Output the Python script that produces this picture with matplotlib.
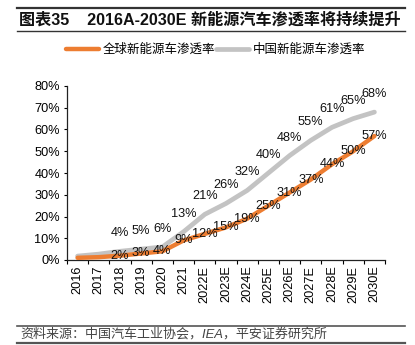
import numpy as np
import matplotlib
matplotlib.use("Agg")
import matplotlib.pyplot as plt
from matplotlib.lines import Line2D

plt.rcParams['font.family'] = ['Liberation Sans', 'Noto Sans CJK SC', 'DejaVu Sans']

YEARS = ["2016", "2017", "2018", "2019", "2020", "2021", "2022E", "2023E",
         "2024E", "2025E", "2026E", "2027E", "2028E", "2029E", "2030E"]
GLOBAL_PEN = [1.0, 1.3, 2, 3, 4, 9, 12, 15, 19, 25, 31, 37, 44, 50, 57]
CHINA_PEN = [1.8, 2.7, 4, 5, 6, 13, 21, 26, 32, 40, 48, 55, 61, 65, 68]
# labels not printed for the first two years
GLOBAL_LABELS = [None, None, "2%", "3%", "4%", "9%", "12%", "15%", "19%", "25%",
                 "31%", "37%", "44%", "50%", "57%"]
CHINA_LABELS = [None, None, "4%", "5%", "6%", "13%", "21%", "26%", "32%", "40%",
                "48%", "55%", "61%", "65%", "68%"]

ORANGE = "#ED7D31"
GRAY = "#C3C3C3"

W, H = 415, 345
fig = plt.figure(figsize=(W / 100, H / 100), dpi=100)

# title block
fig.add_artist(Line2D([17 / W, 405 / W], [1 - 8 / H, 1 - 8 / H], color="#333333", lw=1.6))
fig.add_artist(Line2D([17 / W, 405 / W], [1 - 31 / H, 1 - 31 / H], color="#333333", lw=1.0))
fig.text(19 / W, 1 - 19.5 / H, "图表35    2016A-2030E 新能源汽车渗透率将持续提升",
         fontsize=11.6, fontweight="bold", va="center", ha="left", color="#111111")

# footer
fig.add_artist(Line2D([17 / W, 405 / W], [1 - 326 / H, 1 - 326 / H], color="#555555", lw=1.2))
fig.add_artist(Line2D([17 / W, 405 / W], [1 - 343 / H, 1 - 343 / H], color="#555555", lw=1.6))
fig.text(20 / W, 1 - 334.5 / H, "资料来源：中国汽车工业协会，IEA，平安证券研究所",
         fontsize=9.4, style="italic", va="center", ha="left", color="#444444")

ax = fig.add_axes([67 / W, 1 - 260 / H, (385 - 67) / W, (260 - 86) / H])
x = np.arange(len(YEARS))
g = np.array(GLOBAL_PEN) / 100
c = np.array(CHINA_PEN) / 100

ax.plot(x, c, color=GRAY, lw=3.4, solid_capstyle="round", solid_joinstyle="round",
        label="中国新能源车渗透率", zorder=2)
ax.plot(x, g, color=ORANGE, lw=3.2, solid_capstyle="round", solid_joinstyle="round",
        label="全球新能源车渗透率", zorder=3)

for i, lab in enumerate(GLOBAL_LABELS):
    if lab:
        ax.annotate(lab, (x[i], g[i]), xytext=(0, 0), textcoords="offset points",
                    ha="center", va="center", fontsize=9.2, color="#111111", zorder=4)
for i, lab in enumerate(CHINA_LABELS):
    if lab:
        ax.annotate(lab, (x[i], c[i]), xytext=(0, 13), textcoords="offset points",
                    ha="center", va="center", fontsize=9.2, color="#111111", zorder=4)

ax.set_xlim(-0.5, len(YEARS) - 0.5)
ax.set_ylim(0, 0.8)
ax.set_yticks(np.arange(0, 0.81, 0.1))
ax.set_yticklabels([f"{int(round(v * 100))}%" for v in np.arange(0, 0.81, 0.1)], fontsize=9.2)
ax.set_xticks(x)
ax.set_xticklabels(YEARS, rotation=90, fontsize=9.2)
ax.set_xticks(np.arange(-0.5, len(YEARS), 1), minor=True)
ax.tick_params(axis="x", which="major", length=0, pad=4)
ax.tick_params(axis="x", which="minor", length=3, direction="out", width=0.8)
ax.tick_params(axis="y", length=2, width=0.8, pad=3)
for s in ["top", "right"]:
    ax.spines[s].set_visible(False)
for s in ["left", "bottom"]:
    ax.spines[s].set_linewidth(0.9)
    ax.spines[s].set_color("#222222")

handles, labels = ax.get_legend_handles_labels()
fig.legend(handles[::-1], labels[::-1], loc="center", bbox_to_anchor=(0.52, 1 - 50 / H),
           ncol=2, frameon=False, fontsize=9, handlelength=2.6, columnspacing=0.1,
           handletextpad=0.3)

fig.savefig("out.png", dpi=100)
